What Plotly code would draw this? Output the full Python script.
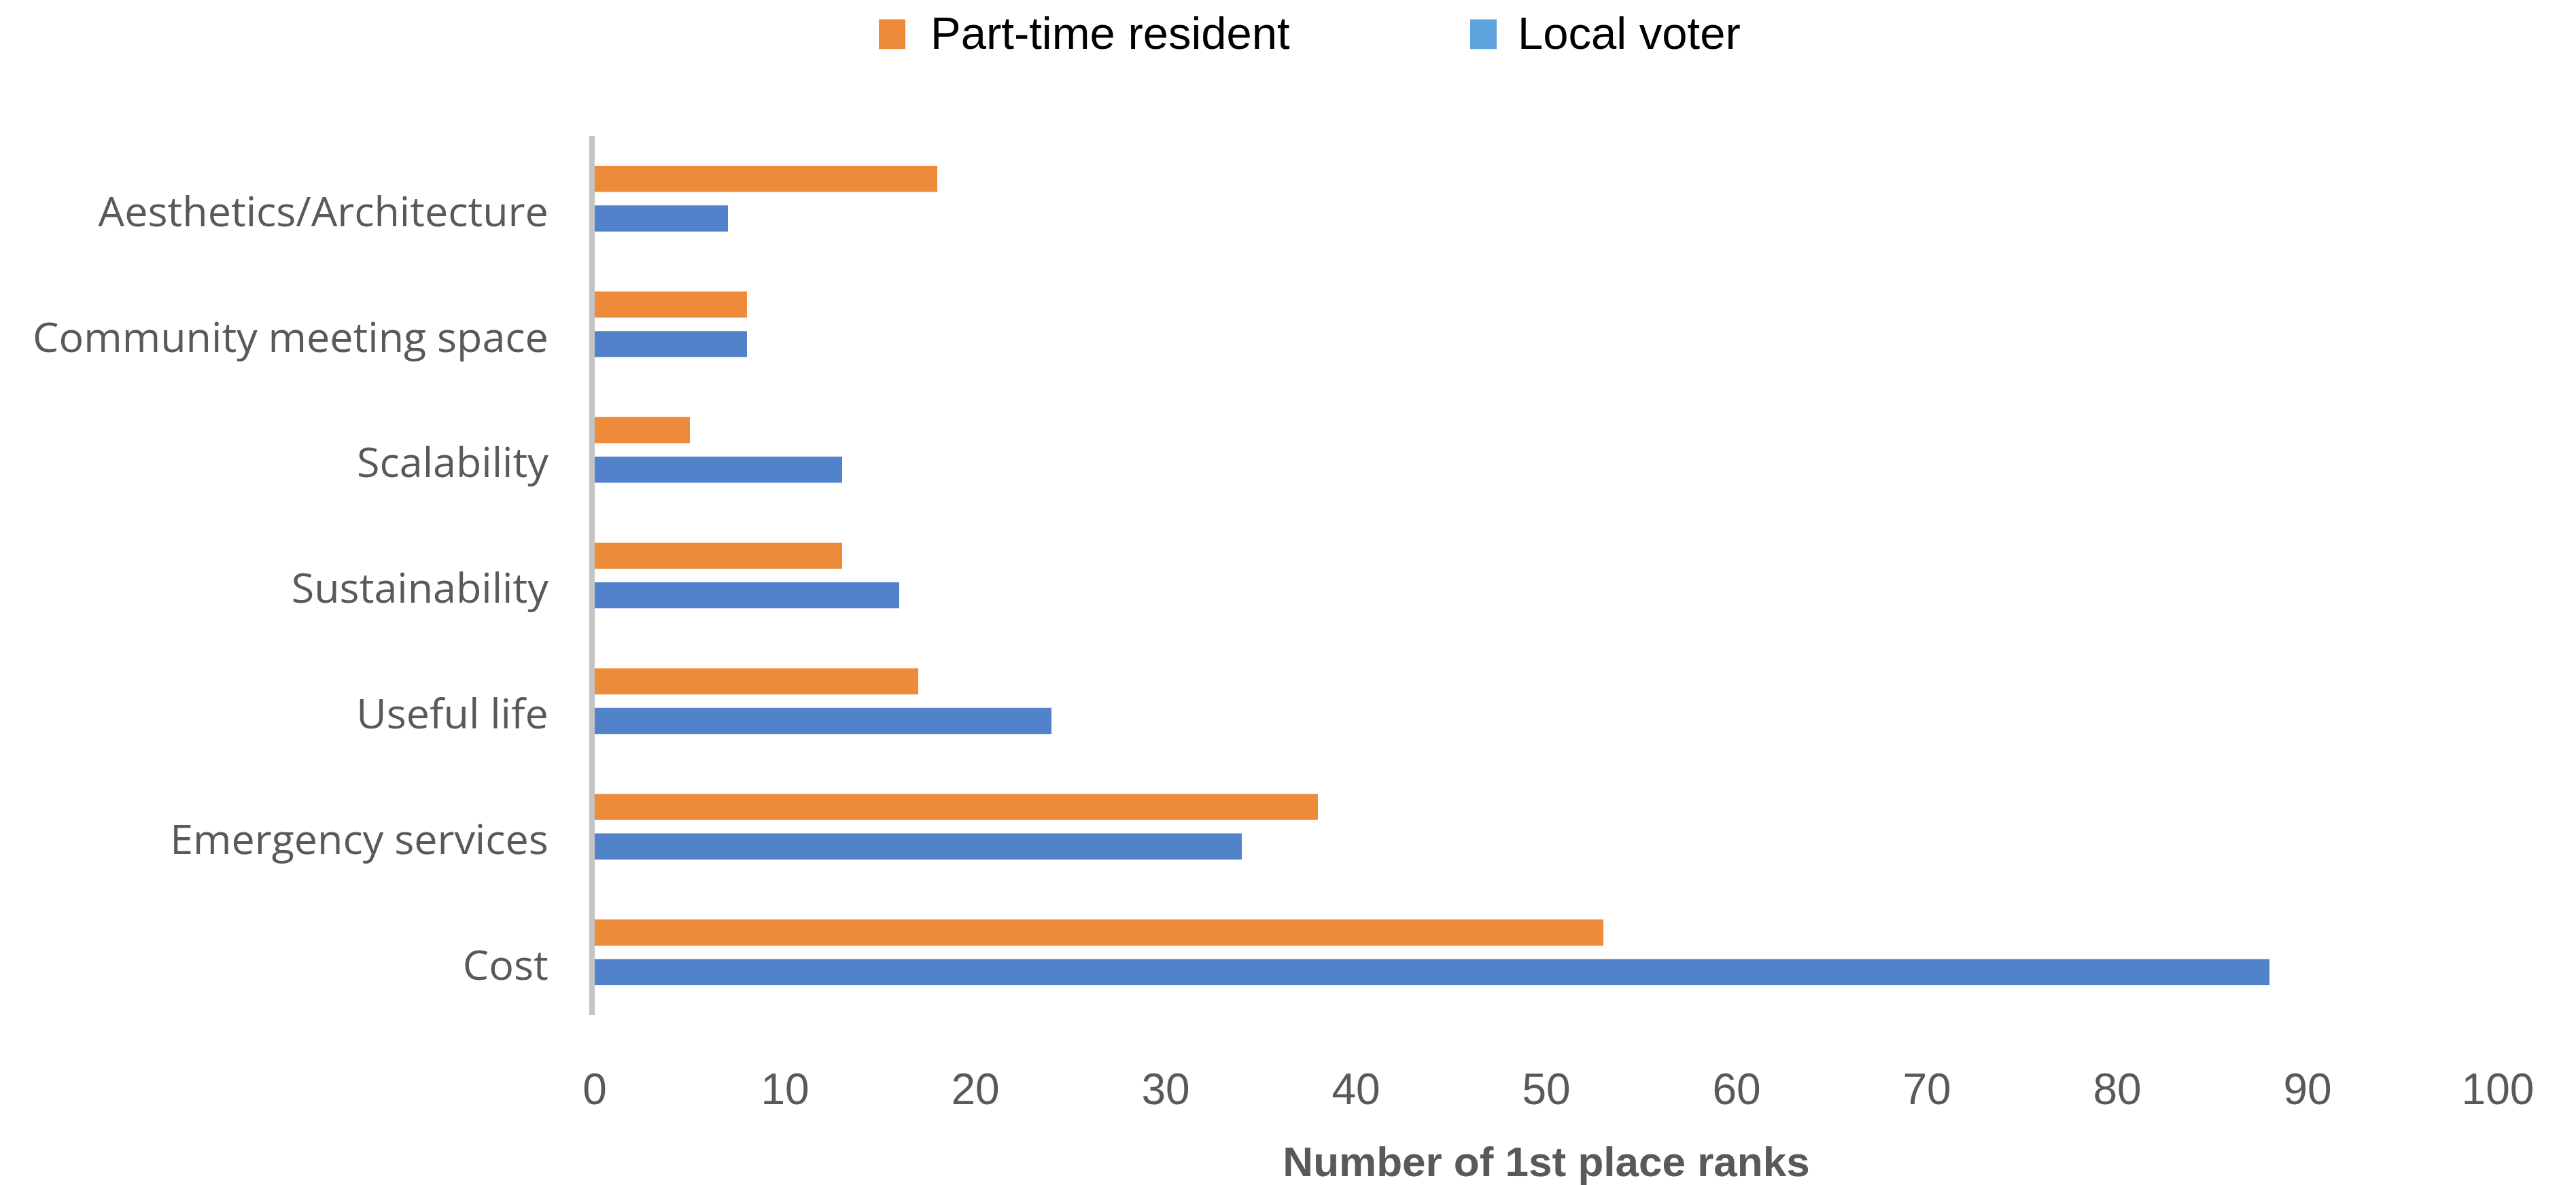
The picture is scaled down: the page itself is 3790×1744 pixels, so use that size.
import plotly.graph_objects as go

# Criteria, listed from the bottom of the chart to the top
criteria = [
    "Cost",
    "Emergency services",
    "Useful life",
    "Sustainability",
    "Scalability",
    "Community meeting space",
    "Aesthetics/Architecture",
]
local_voter = [88, 34, 24, 16, 13, 8, 7]
part_time_resident = [53, 38, 17, 13, 5, 8, 18]

x_ticks = [0, 10, 20, 30, 40, 50, 60, 70, 80, 90, 100]
x_title = "Number of 1st place ranks"

ORANGE = "#ED8B3B"
BLUE = "#5283CA"
LEGEND_BLUE = "#5EA3DC"
GREY_TEXT = "#595959"

W, H = 3790, 1744
M_L, M_R, M_T, M_B = 875, 115, 200, 247


def paper_x(px):
    return (px - M_L) / (W - M_L - M_R)


def paper_y(py):
    return (H - M_B - py) / (H - M_T - M_B)


fig = go.Figure()
# First trace sits lower inside each group, so blue goes first
fig.add_trace(go.Bar(
    y=criteria, x=local_voter, orientation="h", name="Local voter",
    marker=dict(color=BLUE, line=dict(width=0)), showlegend=False,
))
fig.add_trace(go.Bar(
    y=criteria, x=part_time_resident, orientation="h", name="Part-time resident",
    marker=dict(color=ORANGE, line=dict(width=0)), showlegend=False,
))

# Legend row across the top
legend_items = [
    ("Part-time resident", ORANGE, 1293, 1367),
    ("Local voter", LEGEND_BLUE, 2163, 2231),
]
shapes = []
annotations = []
for label, color, sx, tx in legend_items:
    shapes.append(dict(
        type="rect", xref="paper", yref="paper",
        x0=paper_x(sx), x1=paper_x(sx + 39),
        y0=paper_y(72), y1=paper_y(28),
        fillcolor=color, line=dict(width=0), layer="above",
    ))
    annotations.append(dict(
        xref="paper", yref="paper", x=paper_x(tx), y=paper_y(48),
        xanchor="left", yanchor="middle", showarrow=False, text=label,
        font=dict(family="Liberation Sans, Arial, sans-serif", size=67, color="#000000"),
    ))

fig.update_layout(
    width=W, height=H,
    margin=dict(l=M_L, r=M_R, t=M_T, b=M_B, pad=0),
    paper_bgcolor="white", plot_bgcolor="white",
    barmode="group", bargap=0.37, bargroupgap=0.34,
    showlegend=False,
    shapes=shapes, annotations=annotations,
    xaxis=dict(
        range=[0, 100], tickvals=x_ticks, ticktext=[str(v) for v in x_ticks],
        showgrid=False, zeroline=False, showline=False, ticks="",
        tickfont=dict(family="Liberation Sans, Arial, sans-serif", size=64, color=GREY_TEXT),
        ticklabelstandoff=66,
        title=dict(
            text="<b>" + x_title + "</b>", standoff=50,
            font=dict(family="Liberation Sans, Arial, sans-serif", size=62, color=GREY_TEXT),
        ),
    ),
    yaxis=dict(
        categoryorder="array", categoryarray=criteria,
        showgrid=False, zeroline=False,
        showline=True, linecolor="#C4C4C4", linewidth=8, ticks="",
        tickfont=dict(family="Open Sans, sans-serif", size=61, color=GREY_TEXT),
        ticklabelstandoff=48, ticklabelshift=19,
    ),
)

fig.write_html("out.html")
